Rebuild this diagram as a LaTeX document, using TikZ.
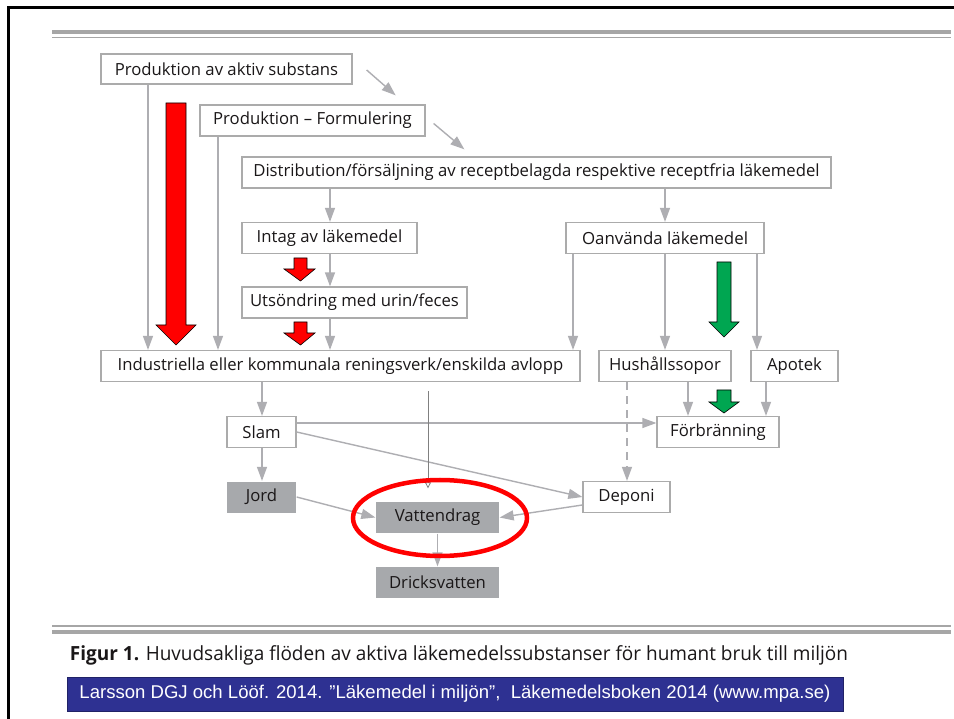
\documentclass[tikz,border=0pt]{standalone}
\usepackage{fontspec}
\usepackage{graphicx}
\setmainfont{Open Sans}
\newfontfamily\reffont{Liberation Sans}
\usetikzlibrary{arrows.meta,calc}
\definecolor{boxgray}{HTML}{ABABAB}
\definecolor{linegray}{HTML}{AEAEB2}
\definecolor{boxfill}{HTML}{A7A9AC}
\definecolor{txt}{HTML}{1A1718}
\definecolor{rulegray}{HTML}{A6A6A6}
\definecolor{refblue}{HTML}{2E3192}
\definecolor{arrred}{HTML}{FF0000}
\definecolor{arrgreen}{HTML}{00A651}
\begin{document}
\begin{tikzpicture}[x=1pt,y=-1pt,
  box/.style={draw=boxgray, line width=1.3pt, fill=white, text=txt,
    font=\fontsize{16.7}{19}\selectfont, minimum height=31pt, inner sep=0pt, anchor=center},
  gbox/.style={box, draw=none, fill=boxfill},
  conn/.style={draw=linegray, line width=1.4pt, -{Triangle[length=14pt,width=10pt]}},
  thinconn/.style={draw=gray, line width=0.8pt, -{Triangle[open,length=6pt,width=6pt]}},
  blockred/.style={fill=arrred, draw=black, line width=0.6pt},
  blockgreen/.style={fill=arrgreen, draw=black, line width=0.6pt},
  rulethick/.style={draw=rulegray, line width=4pt},
  rulethin/.style={draw=rulegray, line width=1.3pt}]
\useasboundingbox (0,0) rectangle (954,719);
\fill[white] (0,0) rectangle (954,719);
% frame
\draw[line width=3pt, black] (8,719) -- (8,8) -- (954,8);
% rules
\draw[rulethick] (52,32) -- (951,32);
\draw[rulethin] (52,37.5) -- (951,37.5);
\draw[rulethin] (52,626) -- (951,626);
\draw[rulethick] (52,632) -- (951,632);

% nodes
\node[box, minimum width=251pt, minimum height=30pt] (pa) at (226.5,69) {Produktion av aktiv substans};
\node[box, minimum width=225pt] (pf) at (312.5,120.5) {Produktion -- Formulering};
\node[box, minimum width=589pt] (dist) at (536.5,172.5) {Distribution/försäljning av receptbelagda respektive receptfria läkemedel};
\node[box, minimum width=175pt] (intag) at (329.5,238) {Intag av läkemedel};
\node[box, minimum width=198pt] (oanv) at (665,238) {\resizebox{166pt}{\height}{Oanvända läkemedel}};
\node[box, minimum width=225pt] (uts) at (354.5,302.5) {Utsöndring med urin/feces};
\node[box, minimum width=479pt] (ind) at (340.5,366) {Industriella eller kommunala reningsverk/enskilda avlopp};
\node[box, minimum width=132pt] (hush) at (665,366) {Hushållssopor};
\node[box, minimum width=87pt] (apotek) at (794.5,366) {Apotek};
\node[box, minimum width=69pt] (slam) at (261.5,432) {Slam};
\node[box, minimum width=122pt] (forb) at (718,432) {Förbränning};
\node[gbox, minimum width=69pt] (jord) at (261.5,497) {Jord};
\node[box, minimum width=87pt] (deponi) at (626.5,497) {Deponi};
\node[gbox, minimum width=123pt] (vatten) at (437.5,517.5) {Vattendrag};
\node[gbox, minimum width=123pt] (dricks) at (437.5,582.5) {Dricksvatten};

% column coordinates
\coordinate (c148) at (148,0);
\coordinate (c218) at (218,0);
\coordinate (c262) at (262,0);
\coordinate (c330) at (330,0);
\coordinate (c428) at (428,0);
\coordinate (c573) at (573,0);
\coordinate (c627) at (627,0);
\coordinate (c665) at (665,0);
\coordinate (c688) at (688,0);
\coordinate (c757) at (757,0);
\coordinate (c766) at (766,0);

% connectors
\draw[conn] ($(pa.east)+(14,1)$) -- ($(pf.north east)+(-30,-9)$);
\draw[conn] ($(pf.east)+(8,3)$) -- ($(dist.north west)+(223,-7)$);
\draw[conn] (pa.south -| c148) -- (ind.north -| c148);
\draw[conn] (pf.south -| c218) -- (ind.north -| c218);
\draw[conn] (dist.south -| c330) -- (intag.north -| c330);
\draw[conn] (dist.south -| c665) -- (oanv.north -| c665);
\draw[conn] (intag.south -| c330) -- (uts.north -| c330);
\draw[conn] (uts.south -| c330) -- (ind.north -| c330);
\draw[conn] (oanv.south -| c573) -- (ind.north -| c573);
\draw[conn] (oanv.south -| c665) -- (hush.north -| c665);
\draw[conn] (oanv.south -| c757) -- (apotek.north -| c757);
\draw[conn] (ind.south -| c262) -- (slam.north -| c262);
\draw[conn] (slam.south -| c262) -- (jord.north -| c262);
\draw[conn] (hush.south -| c688) -- (forb.north -| c688);
\draw[conn] (apotek.south -| c766) -- (forb.north -| c766);
\draw[conn, dash pattern=on 8pt off 6pt] (hush.south -| c627) -- (deponi.north -| c627);
\draw[conn] ($(slam.east)+(0,-9)$) -- ($(forb.west)+(0,-9)$);
\draw[conn] (slam.east) -- (deponi.west);
\draw[conn] (jord.east) -- (vatten.west);
\draw[conn] ($(deponi.west)+(0,8)$) -- (vatten.east);
\draw[conn] (vatten.south) -- (dricks.north);
\draw[thinconn] ($(ind.south -| c428)+(0,9)$) -- ($(vatten.north -| c428)+(0,-13)$);

% block arrows
\draw[blockred] (166,103) -- (186,103) -- (186,325) -- (196,325) -- (176,345) -- (156,325) -- (166,325) -- cycle;
\draw[blockred] (294,258) -- (307,258) -- (307,269) -- (315,269) -- (300.5,281) -- (284,269) -- (294,269) -- cycle;
\draw[blockred] (294,322) -- (307,322) -- (307,333) -- (315,333) -- (300.5,345) -- (284,333) -- (294,333) -- cycle;
\draw[blockgreen] (717,262) -- (731,262) -- (731,322) -- (739,322) -- (724,337) -- (709,322) -- (717,322) -- cycle;
\draw[blockgreen] (717,390) -- (731,390) -- (731,402) -- (739,402) -- (724,413) -- (709,402) -- (717,402) -- cycle;

% highlight ellipse
\draw[arrred, line width=4.5pt] (440,518) ellipse [x radius=87pt, y radius=38pt];

% caption
\node[text=txt, anchor=center] (cap) at (459,655) {\resizebox{778pt}{\height}{\fontsize{19.5}{22}\selectfont\textbf{Figur 1.} Huvudsakliga flöden av aktiva läkemedelssubstanser för humant bruk till miljön}};
\node[fill=refblue, draw=refblue!70!black, line width=0.6pt, minimum width=776pt, minimum height=34pt, inner sep=0pt, text=white] (ref) at (455,694) {\resizebox{751pt}{\height}{\reffont\fontsize{18.5}{20}\selectfont Larsson DGJ och Lööf. 2014. ”Läkemedel i miljön”,\ \ Läkemedelsboken 2014 (www.mpa.se)}};
\end{tikzpicture}
\end{document}
